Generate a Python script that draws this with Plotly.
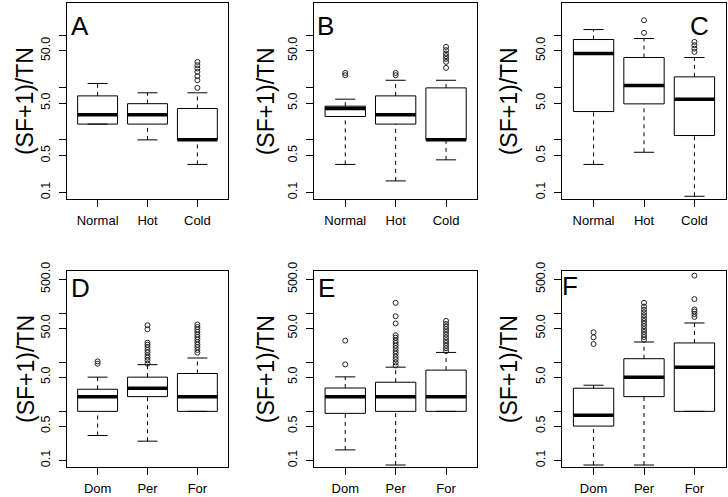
import plotly.graph_objects as go

# ---------------- data ----------------
cats_top = ["Normal", "Hot", "Cold"]
cats_bottom = ["Dom", "Per", "For"]
panel_letters = ["A", "B", "C", "D", "E", "F"]

# panel A
A_lo = [2.0, 1.0, 0.34]
A_q1 = [2.0, 2.0, 1.0]
A_med = [3.0, 3.0, 1.0]
A_q3 = [6.9, 4.9, 3.96]
A_hi = [11.9, 7.9, 7.9]
A_out = [[], [], [9.8, 13.7, 16.4, 19.8, 23.0, 26.5, 30.7]]

# panel B
B_lo = [0.34, 0.165, 0.416]
B_q1 = [2.79, 2.0, 1.0]
B_med = [3.96, 3.0, 1.0]
B_q3 = [4.39, 6.9, 9.8]
B_hi = [5.97, 13.7, 13.7]
B_out = [[17.1, 18.9], [17.1, 18.9], [23.6, 30.7, 35.0, 39.5, 44.4, 51.4, 59.4]]

# panel C
C_lo = [0.34, 0.58, 0.084]
C_q1 = [3.47, 4.86, 1.21]
C_med = [44.3, 10.9, 5.97]
C_q3 = [82.0, 37.2, 15.9]
C_hi = [127.0, 85.7, 37.2]
C_out = [[], [110.0, 191.0], [47.7, 55.0, 64.0, 74.0]]

# panel D
D_lo = [0.321, 0.246, 1.0]
D_q1 = [1.0, 2.0, 1.0]
D_med = [2.0, 2.97, 2.0]
D_q3 = [2.83, 5.0, 5.94]
D_hi = [5.0, 9.0, 12.3]
D_out = [[9.4, 10.5],
         [9.4, 11.0, 12.5, 14.0, 16.0, 18.0, 20.5, 23.0, 25.4, 47.6, 57.6],
         [15.8, 18.0, 20.5, 23.0, 26.0, 29.5, 33.0, 37.0, 42.0, 47.0, 53.0, 59.6]]

# panel E
E_lo = [0.163, 0.080, 1.0]
E_q1 = [0.91, 1.0, 1.0]
E_med = [2.0, 2.0, 2.0]
E_q3 = [3.0, 3.94, 6.96]
E_hi = [5.07, 8.0, 16.0]
E_out = [[9.1, 27.9],
         [8.7, 10.0, 11.5, 13.0, 15.0, 17.0, 19.5, 22.0, 25.0, 28.0, 32.0, 35.9, 62.4, 88.0, 165.0],
         [17.1, 19.5, 22.0, 25.0, 28.5, 32.5, 37.0, 42.0, 48.0, 54.0, 61.0, 70.5]]

# panel F
F_lo = [0.080, 0.080, 1.0]
F_q1 = [0.5, 2.0, 1.0]
F_med = [0.83, 5.0, 8.0]
F_q3 = [2.97, 11.9, 25.0]
F_hi = [3.42, 26.1, 64.0]
F_out = [[23.8, 32.6, 41.3],
         [29.2, 33.0, 37.0, 42.0, 48.0, 55.0, 62.0, 70.0, 80.0, 92.0, 105.0, 120.0, 138.0, 165.0],
         [85.0, 97.0, 110.0, 121.0, 197.0, 593.0]]

tick_vals = [0.1, 0.5, 1, 5, 10, 50, 100, 500]
tick_text = ["0.1", "0.5", "", "5.0", "", "50.0", "", "500.0"]
y_title = "(SF+1)/TN"

panels = [
    (cats_top, A_lo, A_q1, A_med, A_q3, A_hi, A_out),
    (cats_top, B_lo, B_q1, B_med, B_q3, B_hi, B_out),
    (cats_top, C_lo, C_q1, C_med, C_q3, C_hi, C_out),
    (cats_bottom, D_lo, D_q1, D_med, D_q3, D_hi, D_out),
    (cats_bottom, E_lo, E_q1, E_med, E_q3, E_hi, E_out),
    (cats_bottom, F_lo, F_q1, F_med, F_q3, F_hi, F_out),
]

# ---------------- layout geometry (pixels) ----------------
W, H = 728, 497
FONT = "Liberation Sans, Arial, Helvetica, sans-serif"
x_px = [(66.7, 228.3), (314.0, 477.3), (562.3, 725.7)]
y_px = [(3.3, 199.3), (271.3, 467.0)]
y_ranges = [(-1.1335, 2.6046), (-1.137, 2.862)]
title_x_px = [25.8, 266.0, 509.0]
letter_pos = [(79.7, 25.5), (325.7, 25.5), (699.7, 25.5),
              (80.5, 287.5), (326.3, 287.5), (569.7, 286.0)]

fig = go.Figure()
layout = {}
annotations = []
BW = 0.4   # half box width
SW = 0.2   # half staple width

for k, (cats, lo, q1, med, q3, hi, outs) in enumerate(panels):
    row, col = divmod(k, 3)
    n = k + 1
    xa = "x" if n == 1 else f"x{n}"
    ya = "y" if n == 1 else f"y{n}"
    bx, by, mx, my, wx, wy, sx, sy, ox, oy = [], [], [], [], [], [], [], [], [], []
    for i in range(len(cats)):
        bx += [i - BW, i + BW, i + BW, i - BW, i - BW, None]
        by += [q1[i], q1[i], q3[i], q3[i], q1[i], None]
        mx += [i - BW, i + BW, None]
        my += [med[i], med[i], None]
        wx += [i, i, None, i, i, None]
        wy += [q3[i], hi[i], None, lo[i], q1[i], None]
        sx += [i - SW, i + SW, None, i - SW, i + SW, None]
        sy += [hi[i], hi[i], None, lo[i], lo[i], None]
        ox += [i] * len(outs[i])
        oy += outs[i]
    common = dict(xaxis=xa, yaxis=ya, showlegend=False, hoverinfo="skip")
    fig.add_trace(go.Scatter(x=wx, y=wy, mode="lines",
                             line=dict(color="black", width=1, dash="4px,4px"), **common))
    fig.add_trace(go.Scatter(x=sx, y=sy, mode="lines",
                             line=dict(color="black", width=1), **common))
    fig.add_trace(go.Scatter(x=bx, y=by, mode="lines",
                             line=dict(color="black", width=1), **common))
    fig.add_trace(go.Scatter(x=mx, y=my, mode="lines",
                             line=dict(color="black", width=3.5), **common))
    fig.add_trace(go.Scatter(x=ox, y=oy, mode="markers",
                             marker=dict(symbol="circle-open", size=5, color="#222",
                                         line=dict(width=1)), **common))

    x0, x1 = x_px[col]
    y0, y1 = y_px[row]
    xk = "xaxis" if n == 1 else f"xaxis{n}"
    yk = "yaxis" if n == 1 else f"yaxis{n}"
    layout[xk] = dict(domain=[x0 / W, x1 / W], anchor=ya, range=[-0.62, 2.62],
                      automargin=False,
                      tickmode="array", tickvals=list(range(len(cats))), ticktext=cats,
                      ticks="outside", ticklen=7, tickcolor="black", tickwidth=1,
                      showline=True, linecolor="black", linewidth=1, mirror=True,
                      showgrid=False, zeroline=False, ticklabelstandoff=2,
                      tickfont=dict(family=FONT, size=13, color="black"))
    layout[yk] = dict(domain=[1 - y1 / H, 1 - y0 / H], anchor=xa, type="log",
                      range=list(y_ranges[row]), automargin=False,
                      tickmode="array", tickvals=tick_vals, ticktext=tick_text,
                      tickangle=-90, ticks="outside", ticklen=7, tickcolor="black",
                      tickwidth=1, showline=True, linecolor="black", linewidth=1,
                      mirror=True, showgrid=False, zeroline=False, ticklabelstandoff=4,
                      tickfont=dict(family=FONT, size=12.5, color="black"))
    annotations.append(dict(text=y_title, xref="paper", yref="paper",
                            x=title_x_px[col] / W, y=1 - (y0 + y1) / 2 / H,
                            xanchor="center", yanchor="middle", textangle=-90,
                            showarrow=False, font=dict(family=FONT, size=23, color="black")))
    lx, ly = letter_pos[k]
    annotations.append(dict(text=panel_letters[k], xref="paper", yref="paper",
                            x=lx / W, y=1 - ly / H, xanchor="center", yanchor="middle",
                            showarrow=False, font=dict(family=FONT, size=26, color="black")))

fig.update_layout(template="none", width=W, height=H,
                  margin=dict(l=0, r=0, t=0, b=0, pad=0, autoexpand=False),
                  paper_bgcolor="white", plot_bgcolor="white",
                  annotations=annotations, **layout)
fig.write_html("out.html", config={"displayModeBar": False},
               post_script="document.body.style.margin='0';document.body.style.overflow='hidden';")
